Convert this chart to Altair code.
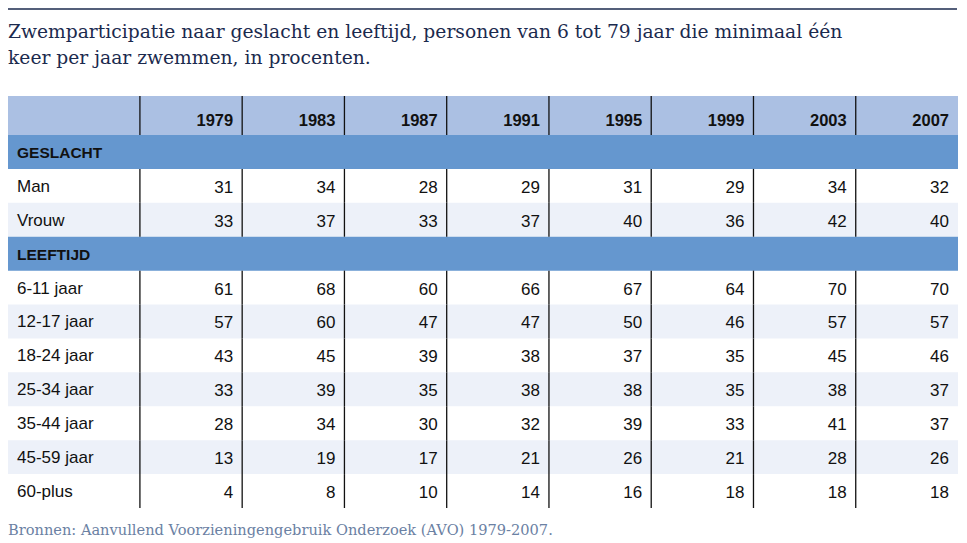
import altair as alt
import pandas as pd

# ---------------- data ----------------
years = ["1979", "1983", "1987", "1991", "1995", "1999", "2003", "2007"]

group_gender = "GESLACHT"
gender_labels = ["Man", "Vrouw"]
man = [31, 34, 28, 29, 31, 29, 34, 32]
vrouw = [33, 37, 33, 37, 40, 36, 42, 40]

group_age = "LEEFTIJD"
age_labels = ["6-11 jaar", "12-17 jaar", "18-24 jaar", "25-34 jaar",
              "35-44 jaar", "45-59 jaar", "60-plus"]
age_6_11 = [61, 68, 60, 66, 67, 64, 70, 70]
age_12_17 = [57, 60, 47, 47, 50, 46, 57, 57]
age_18_24 = [43, 45, 39, 38, 37, 35, 45, 46]
age_25_34 = [33, 39, 35, 38, 38, 35, 38, 37]
age_35_44 = [28, 34, 30, 32, 39, 33, 41, 37]
age_45_59 = [13, 19, 17, 21, 26, 21, 28, 26]
age_60_plus = [4, 8, 10, 14, 16, 18, 18, 18]

title_lines = [
    "Zwemparticipatie naar geslacht en leeftijd, personen van 6 tot 79 jaar die minimaal één",
    "keer per jaar zwemmen, in procenten.",
]
source_text = "Bronnen: Aanvullend Voorzieningengebruik Onderzoek (AVO) 1979-2007."

# ---------------- layout ----------------
W, H = 951, 527
TABLE_TOP, TABLE_BOTTOM = 88, 500
LABEL_W = 1.29
HEADER_H = 1.15
NCOL = len(years)

groups = [
    (group_gender, gender_labels, [man, vrouw]),
    (group_age, age_labels, [age_6_11, age_12_17, age_18_24, age_25_34,
                             age_35_44, age_45_59, age_60_plus]),
]

band_rows, rule_rows, label_rows, value_rows = [], [], [], []
band_rows.append(dict(kind="header", y0=0.0, y1=HEADER_H))
for c in range(NCOL):
    rule_rows.append(dict(x=c, y0=0.0, y1=HEADER_H))
header_rows = [dict(x=c + 1, ym=HEADER_H / 2, t=yr) for c, yr in enumerate(years)]

y = HEADER_H
for gname, labels, vals in groups:
    band_rows.append(dict(kind="group", y0=y, y1=y + 1))
    label_rows.append(dict(x=-LABEL_W, ym=y + 0.5, t=gname, bold="group"))
    y += 1
    for i, (lab, v) in enumerate(zip(labels, vals)):
        if i % 2 == 1:
            band_rows.append(dict(kind="stripe", y0=y, y1=y + 1))
        label_rows.append(dict(x=-LABEL_W, ym=y + 0.5, t=lab, bold="row"))
        for c in range(NCOL):
            rule_rows.append(dict(x=c, y0=y, y1=y + 1))
            value_rows.append(dict(x=c + 1, ym=y + 0.5, t=str(v[c])))
        y += 1
total_y = y

bands = pd.DataFrame(band_rows)
bands["xa"] = -LABEL_W
bands["xb"] = NCOL
rules = pd.DataFrame(rule_rows)
labels_df = pd.DataFrame(label_rows)
values_df = pd.DataFrame(value_rows)
header_df = pd.DataFrame(header_rows)

xs = alt.Scale(domain=[-LABEL_W, NCOL], range=[0, W - 1], zero=False, nice=False)
ys = alt.Scale(domain=[0, total_y], range=[TABLE_TOP, TABLE_BOTTOM], zero=False, nice=False)

SANS = "Liberation Sans"
SERIF = "DejaVu Serif"
FS = 17

band_layer = alt.Chart(bands).mark_rect().encode(
    x=alt.X("xa:Q", scale=xs, axis=None),
    x2="xb:Q",
    y=alt.Y("y0:Q", scale=ys, axis=None),
    y2="y1:Q",
    color=alt.Color("kind:N", legend=None,
                    scale=alt.Scale(domain=["header", "group", "stripe"],
                                    range=["#abc0e3", "#6597cf", "#edf1f9"])),
)

rule_layer = alt.Chart(rules).mark_rule(color="#111111", strokeWidth=1.3).encode(
    x=alt.X("x:Q", scale=xs, axis=None),
    y=alt.Y("y0:Q", scale=ys, axis=None),
    y2="y1:Q",
)

header_layer = alt.Chart(header_df).mark_text(
    align="right", baseline="middle", dx=-9, dy=6, font=SANS, fontSize=16.5,
    fontWeight="bold", color="#111111"
).encode(
    x=alt.X("x:Q", scale=xs, axis=None),
    y=alt.Y("ym:Q", scale=ys, axis=None),
    text="t:N",
)

group_label_layer = alt.Chart(labels_df[labels_df.bold == "group"]).mark_text(
    align="left", baseline="middle", dx=9, dy=1, font=SANS, fontSize=15.5,
    fontWeight="bold", color="#111111"
).encode(
    x=alt.X("x:Q", scale=xs, axis=None),
    y=alt.Y("ym:Q", scale=ys, axis=None),
    text="t:N",
)

row_label_layer = alt.Chart(labels_df[labels_df.bold == "row"]).mark_text(
    align="left", baseline="middle", dx=9, dy=1, font=SANS, fontSize=FS,
    color="#111111"
).encode(
    x=alt.X("x:Q", scale=xs, axis=None),
    y=alt.Y("ym:Q", scale=ys, axis=None),
    text="t:N",
)

value_layer = alt.Chart(values_df).mark_text(
    align="right", baseline="middle", dx=-9, dy=2, font=SANS, fontSize=FS,
    color="#111111"
).encode(
    x=alt.X("x:Q", scale=xs, axis=None),
    y=alt.Y("ym:Q", scale=ys, axis=None),
    text="t:N",
)

title_df = pd.DataFrame({"t": title_lines, "i": list(range(len(title_lines)))})
title_layer = alt.Chart(title_df).mark_text(
    align="left", baseline="alphabetic", font=SERIF, fontSize=18.7,
    color="#1b2a4e"
).encode(
    x=alt.value(0),
    y=alt.Y("i:Q", scale=alt.Scale(domain=[0, 1], range=[30, 56]), axis=None),
    text="t:N",
)

top_line = alt.Chart(pd.DataFrame({"a": [0]})).mark_rule(
    color="#1b2a4e", strokeWidth=1.5
).encode(x=alt.value(0), x2=alt.value(W - 2), y=alt.value(1))

source_layer = alt.Chart(pd.DataFrame({"t": [source_text]})).mark_text(
    align="left", baseline="alphabetic", font=SERIF, fontSize=14.6,
    color="#6b81a3"
).encode(x=alt.value(0), y=alt.value(527), text="t:N")

chart = alt.layer(
    band_layer, rule_layer, header_layer, group_label_layer, row_label_layer,
    value_layer, title_layer, top_line, source_layer
).resolve_scale(y="independent").properties(
    width=W, height=H,
    autosize=alt.AutoSizeParams(type="none"),
    padding={"left": 0, "top": 0, "right": 0, "bottom": 8},
).configure_view(stroke=None)

chart.save("out.html", embed_options={"renderer": "svg", "actions": False})
